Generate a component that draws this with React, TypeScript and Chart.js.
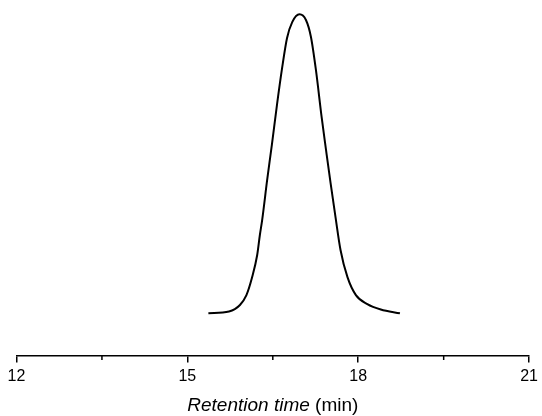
import React, { useEffect, useRef } from "react";
import { Chart, registerables } from "chart.js";

Chart.register(...registerables);

// Retention time (min) and normalized detector response
const retentionTime = [
  15.369, 15.731, 15.923, 16.037, 16.133, 16.226, 16.273, 16.313, 16.401,
  16.483, 16.575, 16.663, 16.75, 16.841, 16.969, 17.082, 17.169, 17.257,
  17.357, 17.435, 17.514, 17.601, 17.689, 17.811, 17.959, 18.16, 18.396,
  18.732,
];
const response = [
  0, 0.006, 0.028, 0.061, 0.118, 0.195, 0.262, 0.312, 0.446, 0.563, 0.7,
  0.82, 0.921, 0.974, 1.0, 0.981, 0.925, 0.814, 0.657, 0.546, 0.436, 0.322,
  0.212, 0.121, 0.061, 0.031, 0.013, 0,
];
const majorTicks = [12, 15, 18, 21];
const minorTicks = [13.5, 16.5, 19.5];
const axisTitleItalic = "Retention time";
const axisTitleUnit = " (min)";

const FONT = '"Liberation Sans", Arial, sans-serif';

export default function App() {
  const canvasRef = useRef<HTMLCanvasElement | null>(null);

  useEffect(() => {
    const canvas = canvasRef.current;
    if (!canvas) return;

    Chart.defaults.font.family = FONT;
    Chart.defaults.font.size = 16;
    Chart.defaults.color = "#000";

    const extrasPlugin = {
      id: "extras",
      afterDraw(chart: any) {
        const ctx = chart.ctx;
        const xs = chart.scales.x;
        const area = chart.chartArea;
        ctx.save();
        // minor ticks
        ctx.strokeStyle = "#000";
        ctx.lineWidth = 1.5;
        for (const v of minorTicks) {
          const px = xs.getPixelForValue(v);
          ctx.beginPath();
          ctx.moveTo(px, area.bottom);
          ctx.lineTo(px, area.bottom + 4.5);
          ctx.stroke();
        }
        // axis title with italic part
        ctx.fillStyle = "#000";
        ctx.textBaseline = "alphabetic";
        ctx.font = `italic 19px ${FONT}`;
        const w1 = ctx.measureText(axisTitleItalic).width;
        ctx.font = `19px ${FONT}`;
        const w2 = ctx.measureText(axisTitleUnit).width;
        const cx = (area.left + area.right) / 2;
        const x0 = cx - (w1 + w2) / 2;
        const baseY = 411;
        ctx.font = `italic 19px ${FONT}`;
        ctx.textAlign = "left";
        ctx.fillText(axisTitleItalic, x0, baseY);
        ctx.font = `19px ${FONT}`;
        ctx.fillText(axisTitleUnit, x0 + w1, baseY);
        ctx.restore();
      },
    };

    const chart = new Chart(canvas, {
      type: "line",
      data: {
        datasets: [
          {
            data: retentionTime.map((t, i) => ({ x: t, y: response[i] })),
            borderColor: "#000",
            borderWidth: 2,
            pointRadius: 0,
            fill: false,
            cubicInterpolationMode: "monotone",
          },
        ],
      },
      options: {
        animation: false,
        responsive: true,
        maintainAspectRatio: false,
        layout: { padding: { left: 16.5, right: 10.5, top: 0, bottom: 0 } },
        plugins: { legend: { display: false }, tooltip: { enabled: false } },
        scales: {
          x: {
            type: "linear",
            min: 12,
            max: 21,
            afterBuildTicks: (scale: any) => {
              scale.ticks = majorTicks.map((v) => ({ value: v }));
            },
            afterFit: (scale: any) => {
              scale.height = 60.5;
            },
            ticks: {
              color: "#000",
              font: { family: FONT, size: 16 },
              padding: 4,
              maxRotation: 0,
              autoSkip: false,
              callback: (v: any) => String(v),
            },
            grid: {
              drawOnChartArea: false,
              drawTicks: true,
              tickLength: 7,
              color: "#000",
              lineWidth: 1.5,
            },
            border: { display: true, color: "#000", width: 1.5 },
          },
          y: {
            display: false,
            min: -0.141,
            max: 1.048,
          },
        },
      },
      plugins: [extrasPlugin],
    } as any);

    return () => chart.destroy();
  }, []);

  return (
    <div style={{ position: "fixed", left: 0, top: 0, width: 542, height: 416, background: "#fff" }}>
      <canvas ref={canvasRef} />
    </div>
  );
}
